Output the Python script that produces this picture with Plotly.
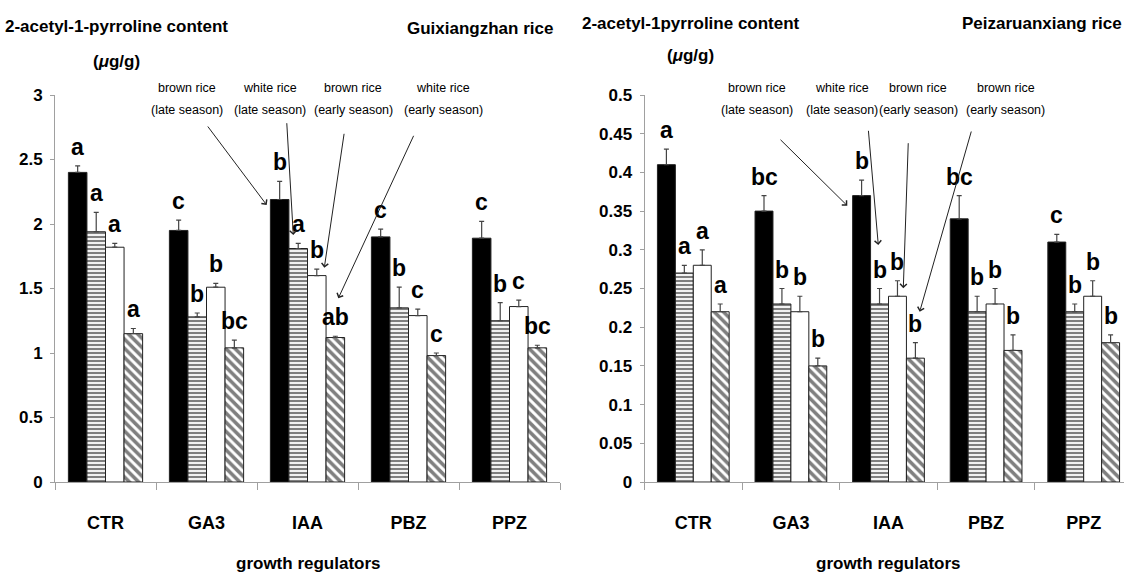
import plotly.graph_objects as go

W, H = 1124, 574
FONT = "Liberation Sans, Arial, sans-serif"

categories = ["CTR", "GA3", "IAA", "PBZ", "PPZ"]
series_names = ["brown rice (late season)", "white rice (late season)",
                "brown rice (early season)", "white rice (early season)"]

# Guixiangzhan rice (left)
g_brown_late = [2.40, 1.95, 2.19, 1.90, 1.89]
g_brown_late_err = [0.05, 0.08, 0.14, 0.06, 0.13]
g_white_late = [1.94, 1.28, 1.81, 1.35, 1.25]
g_white_late_err = [0.15, 0.03, 0.04, 0.16, 0.14]
g_brown_early = [1.82, 1.51, 1.60, 1.29, 1.36]
g_brown_early_err = [0.03, 0.03, 0.05, 0.05, 0.05]
g_white_early = [1.15, 1.04, 1.12, 0.98, 1.04]
g_white_early_err = [0.04, 0.06, 0.01, 0.02, 0.02]
g_letters = [["a", "c", "b", "c", "c"],
             ["a", "b", "a", "b", "b"],
             ["a", "b", "b", "c", "c"],
             ["a", "bc", "ab", "c", "bc"]]

# Peizaruanxiang rice (right)
p_brown_late = [0.41, 0.35, 0.37, 0.34, 0.31]
p_brown_late_err = [0.02, 0.02, 0.02, 0.03, 0.01]
p_white_late = [0.27, 0.23, 0.23, 0.22, 0.22]
p_white_late_err = [0.01, 0.02, 0.02, 0.02, 0.01]
p_brown_early = [0.28, 0.22, 0.24, 0.23, 0.24]
p_brown_early_err = [0.02, 0.02, 0.02, 0.02, 0.02]
p_white_early = [0.22, 0.15, 0.16, 0.17, 0.18]
p_white_early_err = [0.01, 0.01, 0.02, 0.02, 0.01]
p_letters = [["a", "bc", "b", "bc", "c"],
             ["a", "b", "b", "b", "b"],
             ["a", "b", "b", "b", "b"],
             ["a", "b", "b", "b", "b"]]

g_yticks = [0, 0.5, 1, 1.5, 2, 2.5, 3]
g_yticklabels = ["0", "0.5", "1", "1.5", "2", "2.5", "3"]
p_yticks = [0, 0.05, 0.1, 0.15, 0.2, 0.25, 0.3, 0.35, 0.4, 0.45, 0.5]
p_yticklabels = ["0", "0.05", "0.1", "0.15", "0.2", "0.25", "0.3", "0.35", "0.4", "0.45", "0.5"]

BARGAP = 0.265
styles = [
    dict(color="black", pattern=None),
    dict(color="white", pattern=dict(shape="-", fgcolor="black", bgcolor="white", size=4, solidity=0.55)),
    dict(color="white", pattern=None),
    dict(color="white", pattern=dict(shape="\\", fgcolor="black", bgcolor="white", size=6.5, solidity=0.55)),
]

def px2paper(x, y):
    return x / W, 1 - y / H

fig = go.Figure()

panels = [
    ("x", "y", [g_brown_late, g_white_late, g_brown_early, g_white_early],
     [g_brown_late_err, g_white_late_err, g_brown_early_err, g_white_early_err], g_letters),
    ("x2", "y2", [p_brown_late, p_white_late, p_brown_early, p_white_early],
     [p_brown_late_err, p_white_late_err, p_brown_early_err, p_white_early_err], p_letters),
]

annotations = []
bw = (1 - BARGAP) / 4
for xa, ya, vals, errs, letters in panels:
    for i in range(4):
        st = styles[i]
        marker = dict(color=st["color"], line=dict(color="#222222", width=1))
        if st["pattern"]:
            marker["pattern"] = st["pattern"]
        fig.add_trace(go.Bar(
            x=categories, y=vals[i], name=series_names[i], xaxis=xa, yaxis=ya,
            marker=marker,
            error_y=dict(type="data", array=errs[i], arrayminus=[0] * 5, symmetric=False,
                         color="#444444", thickness=1.2, width=2.5),
            showlegend=False,
        ))
        for j in range(5):
            annotations.append(dict(
                x=j + (i - 1.5) * bw, y=vals[i][j] + errs[i][j], xref=xa, yref=ya,
                text=letters[i][j], showarrow=False, yanchor="bottom", yshift=4,
                font=dict(family=FONT, size=23, color="black", weight="bold"),
            ))

def text_ann(x, y, txt, size, bold=True, xanchor="center"):
    px_, py_ = px2paper(x, y)
    annotations.append(dict(x=px_, y=py_, xref="paper", yref="paper", text=txt,
                            showarrow=False, xanchor=xanchor, yanchor="middle",
                            font=dict(family=FONT, size=size, color="black",
                                      weight="bold" if bold else "normal")))

text_ann(116.6, 27, "2-acetyl-1-pyrroline content", 17)
text_ann(116.6, 61, "(<i>μ</i>g/g)", 17)
text_ann(555, 28, "Guixiangzhan rice", 17, xanchor="right")
text_ann(691, 23, "2-acetyl-1pyrroline content", 17)
text_ann(690.5, 56, "(<i>μ</i>g/g)", 17)
text_ann(1124, 24, "Peizaruanxiang rice", 17, xanchor="right")
text_ann(308, 563, "growth regulators", 17)
text_ann(888, 563, "growth regulators", 17)

# series label annotations with arrows
labels_left = [
    (186.7, "brown rice", "(late season)", (206.7, 125), (266.7, 205)),
    (270.0, "white rice", "(late season)", (286.7, 121.7), (293.3, 235)),
    (353.3, "brown rice", "(early season)", (344.3, 132.3), (324.3, 267.7)),
    (443.0, "white rice", "(early season)", (414.3, 134.3), (338.3, 298.3)),
]
labels_right = [
    (756.7, "brown rice", "(late season)", (779, 138.3), (847.3, 205.7)),
    (841.7, "white rice", "(late season)", (868.3, 129.3), (878.3, 245)),
    (918.3, "brown rice", "(early season)", (908.3, 141.7), (903.3, 288.3)),
    (1005.7, "brown rice", "(early season)", (971.7, 130), (919.7, 311.7)),
]
for cx, l1, l2, tail, head in labels_left + labels_right:
    text_ann(cx, 88, l1, 12.5, bold=False)
    text_ann(cx, 110, l2, 12.5, bold=False)
    hx, hy = px2paper(*head)
    annotations.append(dict(x=hx, y=hy, xref="paper", yref="paper", text="",
                            showarrow=True, axref="pixel", ayref="pixel",
                            ax=tail[0] - head[0], ay=tail[1] - head[1],
                            arrowhead=4, arrowsize=1.3, arrowwidth=1, arrowcolor="#222222"))

ydom = [92 / H, 479 / H]
axis_common = dict(showline=True, linecolor="#a0a0a0", linewidth=1, showgrid=False, zeroline=False,
                   ticks="outside", tickcolor="#a0a0a0", automargin=False)
xtickfont = dict(family=FONT, size=18, color="black", weight="bold")
ytickfont = dict(family=FONT, size=17, color="black", weight="bold")

fig.update_layout(
    width=W, height=H, autosize=False, margin=dict(l=0, r=0, t=0, b=0, pad=0),
    paper_bgcolor="white", plot_bgcolor="white",
    barmode="group", bargap=BARGAP, bargroupgap=0,
    xaxis=dict(domain=[55 / W, 560 / W], range=[-0.5, 4.5], tickson="boundaries", ticklen=7,
               tickfont=xtickfont, ticklabelstandoff=24, anchor="y", **axis_common),
    yaxis=dict(domain=ydom, range=[0, 3], tickvals=g_yticks, ticktext=g_yticklabels, ticklen=4,
               tickfont=ytickfont, ticklabelstandoff=4, anchor="x", **axis_common),
    xaxis2=dict(domain=[644.5 / W, 1.0], range=[-0.5, -0.5 + (W - 644.5) / 97.6],
                tickson="boundaries", ticklen=7,
                tickfont=xtickfont, ticklabelstandoff=24, anchor="y2", **axis_common),
    yaxis2=dict(domain=ydom, range=[0, 0.5], tickvals=p_yticks, ticktext=p_yticklabels, ticklen=4,
                tickfont=ytickfont, ticklabelstandoff=4, anchor="x2", **axis_common),
    annotations=annotations,
)

fig.write_html(
    "out.html",
    config={"displayModeBar": False, "responsive": False},
    post_script=("document.documentElement.style.margin='0';document.documentElement.style.padding='0';"
                 "document.documentElement.style.overflow='hidden';"
                 "document.body.style.margin='0';document.body.style.padding='0';"
                 "document.body.style.overflow='hidden';"),
)
